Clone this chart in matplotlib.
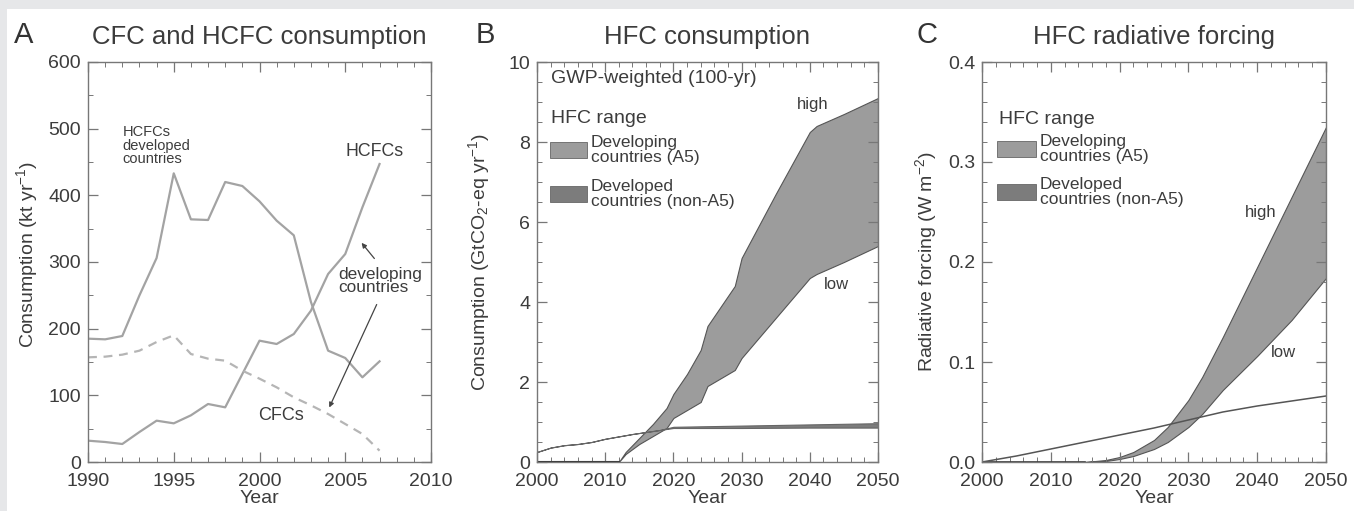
import matplotlib.pyplot as plt
from matplotlib.patches import Rectangle
from matplotlib.ticker import MultipleLocator, FormatStrFormatter

plt.rcParams['font.family'] = ['Liberation Sans', 'DejaVu Sans']
plt.rcParams['mathtext.default'] = 'regular'

# panel A data (kt/yr)
years_a = list(range(1990, 2008))
hcfc_developed = [185, 184, 189, 250, 306, 433, 364, 363, 420, 414, 391, 362, 340, 240, 167, 156, 127, 151]
hcfc_developing = [32, 30, 27, 45, 62, 58, 70, 87, 82, 132, 182, 177, 192, 227, 282, 312, 382, 447]
cfc_developing = [157, 158, 161, 167, 180, 190, 162, 155, 152, 137, 125, 112, 97, 85, 72, 57, 42, 17]

# panel B data (GtCO2-eq/yr)
years_b = [2012, 2013, 2015, 2017, 2019, 2020, 2022, 2024, 2025, 2027, 2029, 2030, 2035, 2040, 2041, 2045, 2050]
hfc_a5_high = [0, 0.25, 0.6, 0.95, 1.35, 1.7, 2.2, 2.8, 3.4, 3.9, 4.4, 5.1, 6.7, 8.25, 8.4, 8.7, 9.1]
hfc_a5_low = [0, 0.2, 0.45, 0.65, 0.85, 1.1, 1.3, 1.5, 1.9, 2.1, 2.3, 2.6, 3.6, 4.6, 4.7, 5.0, 5.4]
years_b_dev = [2000, 2002, 2004, 2006, 2008, 2010, 2012, 2014, 2016, 2018, 2020, 2030, 2040, 2050]
hfc_dev_low = [0.25, 0.36, 0.42, 0.45, 0.5, 0.58, 0.64, 0.7, 0.75, 0.8, 0.85, 0.85, 0.86, 0.86]
hfc_dev_high = [0.25, 0.36, 0.42, 0.45, 0.5, 0.58, 0.64, 0.7, 0.75, 0.8, 0.88, 0.91, 0.94, 0.97]

# panel C data (W/m2)
years_c = [2015, 2018, 2020, 2022, 2025, 2027, 2030, 2032, 2035, 2040, 2045, 2050]
rf_a5_high = [0, 0.002, 0.005, 0.01, 0.022, 0.035, 0.062, 0.085, 0.125, 0.195, 0.265, 0.335]
rf_a5_low = [0, 0.001, 0.003, 0.006, 0.013, 0.02, 0.035, 0.048, 0.072, 0.106, 0.142, 0.184]
years_c_dev = [2000, 2005, 2010, 2015, 2020, 2025, 2030, 2035, 2040, 2045, 2050]
rf_dev = [0.0, 0.006, 0.013, 0.02, 0.027, 0.034, 0.042, 0.05, 0.056, 0.061, 0.066]

txt = '#3c3c3c'
spine = '#777777'
band = '#9c9c9c'
band_dark = '#7c7c7c'

fig = plt.figure(figsize=(13.54, 5.11), dpi=100)
fig.patch.set_facecolor('#e6e7e9')
fig.patches.append(Rectangle((7 / 1354, 0), 1, 1 - 9 / 511, transform=fig.transFigure,
                             facecolor='white', edgecolor='none', zorder=-1))

W, H = 1354, 511
def make_ax(x0, x1, y0=62, y1=462):
    return fig.add_axes([x0 / W, (H - y1) / H, (x1 - x0) / W, (y1 - y0) / H])

def style(ax, xmaj, xmin, ymaj, ymin):
    ax.xaxis.set_major_locator(MultipleLocator(xmaj))
    ax.xaxis.set_minor_locator(MultipleLocator(xmin))
    ax.yaxis.set_major_locator(MultipleLocator(ymaj))
    ax.yaxis.set_minor_locator(MultipleLocator(ymin))
    ax.tick_params(which='both', direction='in', top=True, right=True, colors=spine,
                   labelcolor=txt, labelsize=14)
    ax.tick_params(axis='x', which='both', pad=8)
    ax.tick_params(axis='y', which='both', pad=5)
    ax.tick_params(which='major', length=7, width=0.9)
    ax.tick_params(which='minor', length=3.5, width=0.7)
    for s in ax.spines.values():
        s.set_color(spine)
        s.set_linewidth(1.0)
    ax.set_xlabel('Year', fontsize=14, color=txt, labelpad=0)

def title(ax, letter, text, lx):
    ax.set_title(text, fontsize=18.5, color=txt, pad=13)
    fig.text(lx / W, 1 - 35 / H, letter, fontsize=21, color='#333333', va='center')

def legend(ax, x, y_hdr, y1, y2, dx, dy):
    ax.text(x, y_hdr, 'HFC range', fontsize=14, color=txt, va='center')
    ax.add_patch(Rectangle((x - 0.2, y1 - dy / 2), dx, dy, facecolor=band, edgecolor='#666666', lw=0.6))
    ax.add_patch(Rectangle((x - 0.2, y2 - dy / 2), dx, dy, facecolor=band_dark, edgecolor='#666666', lw=0.6))
    ax.text(x - 0.2 + dx + 0.6, y1, 'Developing\ncountries (A5)', fontsize=12.5, color=txt,
            va='center', linespacing=0.95)
    ax.text(x - 0.2 + dx + 0.6, y2, 'Developed\ncountries (non-A5)', fontsize=12.5, color=txt,
            va='center', linespacing=0.95)

# ---- A
axa = make_ax(88, 431)
axa.plot(years_a, hcfc_developed, color='#a3a3a3', lw=1.6)
axa.plot(years_a, hcfc_developing, color='#a3a3a3', lw=1.6)
axa.plot(years_a, cfc_developing, color='#b5b5b5', lw=1.6, dashes=(4, 3))
axa.set_xlim(1990, 2010)
axa.set_ylim(0, 600)
style(axa, 5, 1, 100, 50)
axa.set_ylabel('Consumption (kt yr$^{-1}$)', fontsize=14, color=txt, labelpad=6)
axa.yaxis.label.set_y(0.52)
title(axa, 'A', 'CFC and HCFC consumption', 14)
axa.text(1992.0, 505, 'HCFCs\ndeveloped\ncountries', fontsize=10.5, color=txt, va='top', linespacing=0.95)
axa.text(2005.0, 465, 'HCFCs', fontsize=12.8, color=txt, va='center')
axa.text(2004.6, 272, 'developing\ncountries', fontsize=12.4, color=txt, va='center', linespacing=0.85)
axa.text(1999.9, 70, 'CFCs', fontsize=13, color=txt, va='center')
arr = dict(arrowstyle='-|>', color='#444444', lw=0.9, mutation_scale=7)
axa.annotate('', xy=(2005.85, 332), xytext=(2006.8, 302), arrowprops=arr)
axa.annotate('', xy=(2004.0, 78), xytext=(2006.9, 240), arrowprops=arr)

# ---- B
axb = make_ax(537, 878)
axb.plot([2000, 2012], [0, 0], color='#333333', lw=1.5)
axb.fill_between(years_b, hfc_a5_low, hfc_a5_high, facecolor=band, edgecolor='#555555', lw=0.8)
axb.fill_between(years_b_dev, hfc_dev_low, hfc_dev_high, facecolor=band_dark, edgecolor='#666666', lw=0.8)
axb.set_xlim(2000, 2050)
axb.set_ylim(0, 10)
style(axb, 10, 2, 2, 0.5)
axb.set_ylabel('Consumption (GtCO$_2$-eq yr$^{-1}$)', fontsize=14, color=txt, labelpad=12)
title(axb, 'B', 'HFC consumption', 476)
axb.text(2002.1, 9.6, 'GWP-weighted (100-yr)', fontsize=14, color=txt, va='center')
legend(axb, 2002.1, 8.6, 7.8, 6.7, 5.4, 0.42)
axb.text(2038.1, 8.95, 'high', fontsize=12, color=txt, va='center')
axb.text(2042.0, 4.45, 'low', fontsize=12, color=txt, va='center')

# ---- C
axc = make_ax(982, 1326)
axc.plot([2000, 2015], [0, 0], color='#333333', lw=1.2)
axc.fill_between(years_c, rf_a5_low, rf_a5_high, facecolor=band, edgecolor='#555555', lw=0.8)
axc.plot(years_c_dev, rf_dev, color='#555555', lw=1.1)
axc.set_xlim(2000, 2050)
axc.set_ylim(0, 0.4)
style(axc, 10, 2, 0.1, 0.02)
axc.yaxis.set_major_formatter(FormatStrFormatter('%.1f'))
axc.set_ylabel('Radiative forcing (W m$^{-2}$)', fontsize=14, color=txt, labelpad=6)
title(axc, 'C', 'HFC radiative forcing', 917)
legend(axc, 2002.4, 0.343, 0.313, 0.27, 5.6, 0.016)
axc.text(2038.2, 0.25, 'high', fontsize=12, color=txt, va='center')
axc.text(2042.0, 0.11, 'low', fontsize=12, color=txt, va='center')

fig.savefig('out.png', dpi=100)
